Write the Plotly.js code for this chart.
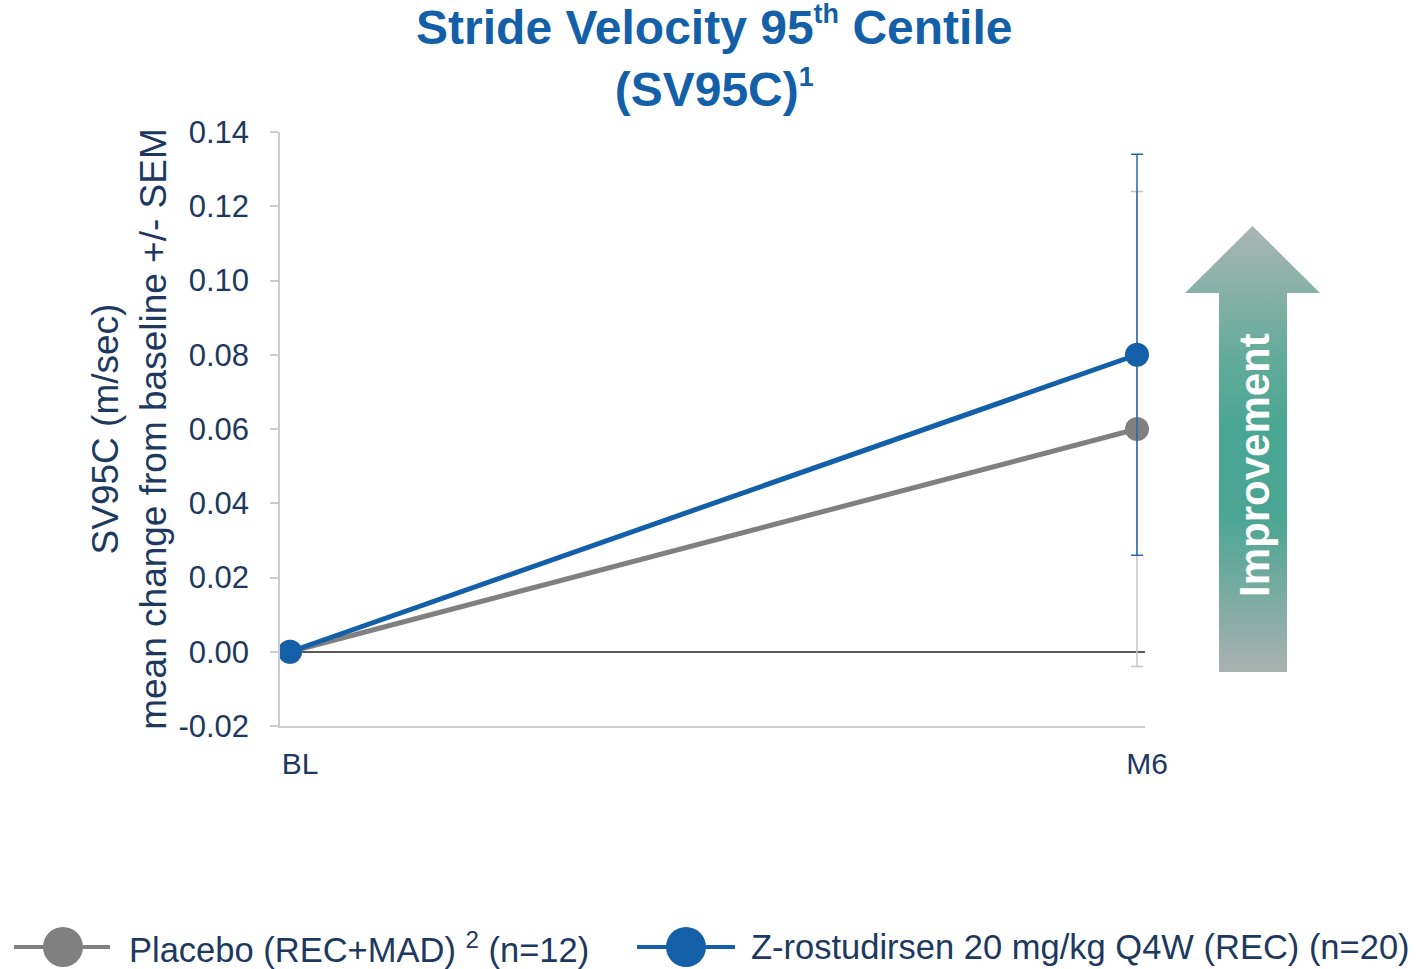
<!DOCTYPE html>
<html>
<head>
<meta charset="utf-8">
<script src="https://cdn.plot.ly/plotly-3.0.1.min.js"></script>
<style>html,body{margin:0;padding:0;background:#fff;}#chart{width:1420px;height:969px;}</style>
</head>
<body>
<div id="chart"></div>
<script>
// ---- data ----
const timepoints = ['BL', 'M6'];
const placeboName = 'Placebo (REC+MAD) <sup>2</sup> (n=12)';
const placeboMean = [0.00, 0.060];
const placeboSEM = [0.00, 0.064];
const zName = 'Z-rostudirsen 20 mg/kg Q4W (REC) (n=20)';
const zMean = [0.00, 0.080];
const zSEM = [0.00, 0.054];
const yTickVals = [-0.02, 0.00, 0.02, 0.04, 0.06, 0.08, 0.10, 0.12, 0.14];
const yTickText = ['-0.02', '0.00', '0.02', '0.04', '0.06', '0.08', '0.10', '0.12', '0.14'];

// ---- style / layout helpers ----
const W = 1420, H = 969;
const M = {l: 280, r: 275, t: 132, b: 243};
const PW = W - M.l - M.r, PH = H - M.t - M.b;
const px = v => (v - M.l) / PW;          // pixel x -> paper x
const py = v => (H - M.b - v) / PH;      // pixel y -> paper y

const NAVY = '#1d3960';
const BLUE = '#135fa8';
const GRAY = '#808080';
const FONT = 'Liberation Sans, Arial, sans-serif';

const traces = [
  {
    x: timepoints, y: placeboMean, name: placeboName, type: 'scatter', mode: 'lines+markers',
    line: {color: GRAY, width: 5},
    marker: {color: GRAY, size: 24},
    error_y: {type: 'data', array: placeboSEM, visible: true, color: '#c4c4c4', thickness: 1.5, width: 6},
    cliponaxis: false,
    showlegend: false
  },
  {
    x: timepoints, y: zMean, name: zName, type: 'scatter', mode: 'lines+markers',
    line: {color: BLUE, width: 5},
    marker: {color: BLUE, size: 24},
    error_y: {type: 'data', array: zSEM, visible: true, color: '#2a66aa', thickness: 1.5, width: 6},
    cliponaxis: false,
    showlegend: false
  }
];

// gradient arrow (decoration)
const arrowSvg = '<svg xmlns="http://www.w3.org/2000/svg" width="135" height="446" viewBox="0 0 135 446" preserveAspectRatio="none">' +
  '<defs><linearGradient id="g" x1="0" y1="0" x2="0" y2="1">' +
  '<stop offset="0" stop-color="#abb6b3"/><stop offset="0.3" stop-color="#62ab99"/>' +
  '<stop offset="0.45" stop-color="#49a692"/><stop offset="0.65" stop-color="#4aa692"/>' +
  '<stop offset="1" stop-color="#aab1b1"/></linearGradient></defs>' +
  '<path d="M67.5,0 L135,67 L102,67 L102,446 L34,446 L34,67 L0,67 Z" fill="url(#g)"/></svg>';

const legendItems = [
  {name: placeboName, color: GRAY, lx0: 14, lx1: 110, cx: 63, tx: 127},
  {name: zName, color: BLUE, lx0: 637, lx1: 735, cx: 686, tx: 749}
];
const legY = 947;

const shapes = [];
const annotations = [];
legendItems.forEach(it => {
  shapes.push({type: 'line', xref: 'paper', yref: 'paper', x0: px(it.lx0), x1: px(it.lx1), y0: py(legY), y1: py(legY),
    line: {color: it.color, width: 4}});
  shapes.push({type: 'circle', xref: 'paper', yref: 'paper', xsizemode: 'pixel', ysizemode: 'pixel',
    xanchor: px(it.cx), yanchor: py(legY), x0: -20, x1: 20, y0: -20, y1: 20,
    fillcolor: it.color, line: {width: 0}});
  annotations.push({xref: 'paper', yref: 'paper', x: px(it.tx), y: py(legY), xanchor: 'left', yanchor: 'middle',
    text: it.name, showarrow: false, font: {family: FONT, size: 34.5, color: NAVY}});
});
annotations.push({xref: 'paper', yref: 'paper', x: px(1255), y: py(465), xanchor: 'center', yanchor: 'middle',
  text: '<b>Improvement</b>', textangle: -90, showarrow: false, font: {family: FONT, size: 42, color: '#ffffff'}});

const layout = {
  width: W, height: H,
  margin: M,
  paper_bgcolor: '#ffffff', plot_bgcolor: '#ffffff',
  font: {family: FONT, color: NAVY},
  title: {
    text: '<b>Stride Velocity 95<sup><span style="font-size:27px">th</span></sup> Centile<br>(SV95C)<sup><span style="font-size:27px">1</span></sup></b>',
    font: {family: FONT, size: 48, color: BLUE},
    x: 0.503, xanchor: 'center', xref: 'container',
    y: 0.955, yanchor: 'top', yref: 'container'
  },
  xaxis: {
    type: 'category',
    range: [-10 / 847, 1 + 8 / 847],
    showgrid: false, zeroline: false,
    showline: true, linecolor: '#cccccc', linewidth: 1.5,
    ticks: '', tickfont: {family: FONT, size: 30, color: NAVY},
    ticklabelshift: 10, ticklabelstandoff: 10,
    fixedrange: true
  },
  yaxis: {
    range: [-0.02, 0.14],
    tickvals: yTickVals, ticktext: yTickText,
    showgrid: false,
    zeroline: true, zerolinecolor: '#5a5a5a', zerolinewidth: 1.5,
    showline: true, linecolor: '#cccccc', linewidth: 1.5,
    ticks: 'outside', ticklen: 8, tickcolor: '#cccccc', tickwidth: 1.5,
    tickfont: {family: FONT, size: 31, color: NAVY},
    ticklabelstandoff: 15,
    title: {text: 'SV95C (m/sec)<br>mean change from baseline +/- SEM', font: {family: FONT, size: 37, color: NAVY}, standoff: 0},
    automargin: false,
    fixedrange: true
  },
  images: [{
    source: 'data:image/svg+xml;charset=utf-8,' + encodeURIComponent(arrowSvg),
    xref: 'paper', yref: 'paper', x: px(1185), y: py(226), sizex: 135 / PW, sizey: 446 / PH,
    xanchor: 'left', yanchor: 'top', sizing: 'stretch', layer: 'above'
  }],
  shapes: shapes,
  annotations: annotations,
  showlegend: false
};

Plotly.newPlot('chart', traces, layout, {displayModeBar: false, responsive: false});
</script>
</body>
</html>
